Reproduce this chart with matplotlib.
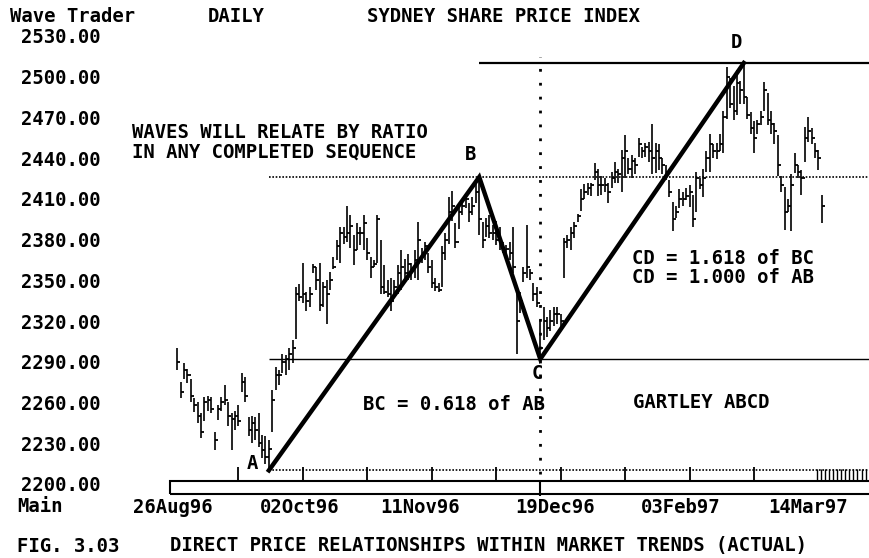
import matplotlib
matplotlib.use('Agg')
import matplotlib.pyplot as plt
from matplotlib.patches import Rectangle
from matplotlib.transforms import blended_transform_factory
import numpy as np

# daily HLC bars, Sydney share price index
high = [
    2300, 2275, 2289, 2285, 2277, 2263, 2260, 2252, 2264, 2265,
    2264, 2238, 2258, 2264, 2273, 2260, 2252, 2254, 2258, 2282,
    2279, 2249, 2250, 2249, 2252, 2236, 2235, 2232, 2269, 2286,
    2284, 2296, 2295, 2300, 2306, 2345, 2347, 2363, 2341, 2345,
    2362, 2360, 2363, 2349, 2350, 2356, 2367, 2380, 2389, 2389,
    2405, 2398, 2383, 2392, 2389, 2398, 2381, 2367, 2365, 2398,
    2380, 2361, 2350, 2352, 2350, 2361, 2372, 2366, 2369, 2363,
    2372, 2393, 2374, 2378, 2370, 2365, 2352, 2348, 2375, 2385,
    2411, 2416, 2392, 2404, 2410, 2413, 2407, 2411, 2421, 2426,
    2393, 2396, 2398, 2391, 2394, 2389, 2378, 2376, 2378, 2389,
    2343, 2341, 2360, 2391, 2358, 2348, 2345, 2321, 2330, 2323,
    2328, 2330, 2330, 2325, 2381, 2383, 2389, 2393, 2399, 2417,
    2421, 2422, 2422, 2436, 2432, 2427, 2425, 2422, 2430, 2437,
    2432, 2446, 2457, 2440, 2442, 2440, 2455, 2448, 2451, 2452,
    2465, 2451, 2450, 2440, 2435, 2424, 2408, 2405, 2417, 2415,
    2418, 2420, 2413, 2430, 2425, 2432, 2445, 2458, 2450, 2451,
    2458, 2475, 2507, 2499, 2493, 2505, 2497, 2510, 2485, 2474,
    2467, 2468, 2475, 2496, 2488, 2475, 2466, 2457, 2427, 2419,
    2410, 2428, 2444, 2435, 2431, 2463, 2470, 2462, 2451, 2446,
    2413]
low = [
    2284, 2263, 2277, 2274, 2260, 2253, 2245, 2234, 2246, 2254,
    2252, 2225, 2247, 2254, 2258, 2243, 2225, 2240, 2243, 2268,
    2260, 2235, 2230, 2232, 2227, 2219, 2215, 2210, 2238, 2269,
    2273, 2282, 2280, 2284, 2289, 2307, 2335, 2333, 2327, 2330,
    2355, 2343, 2327, 2330, 2318, 2343, 2358, 2365, 2363, 2377,
    2378, 2374, 2361, 2372, 2376, 2372, 2365, 2352, 2360, 2363,
    2340, 2340, 2338, 2327, 2339, 2340, 2343, 2348, 2350, 2350,
    2352, 2350, 2363, 2365, 2355, 2344, 2342, 2341, 2345, 2365,
    2377, 2394, 2374, 2388, 2398, 2403, 2393, 2398, 2407, 2383,
    2374, 2382, 2381, 2380, 2376, 2372, 2370, 2368, 2365, 2355,
    2296, 2326, 2349, 2352, 2350, 2335, 2330, 2292, 2306, 2308,
    2313, 2316, 2318, 2315, 2352, 2374, 2372, 2381, 2393, 2401,
    2410, 2413, 2412, 2424, 2412, 2413, 2415, 2407, 2418, 2422,
    2422, 2415, 2425, 2428, 2425, 2428, 2441, 2440, 2441, 2437,
    2428, 2429, 2431, 2428, 2424, 2411, 2386, 2396, 2403, 2405,
    2409, 2404, 2389, 2400, 2417, 2411, 2430, 2430, 2440, 2439,
    2445, 2444, 2469, 2477, 2468, 2472, 2480, 2480, 2469, 2458,
    2444, 2458, 2464, 2475, 2464, 2458, 2450, 2427, 2415, 2387,
    2400, 2386, 2429, 2425, 2413, 2437, 2452, 2450, 2440, 2431,
    2392]
close = [
    2290, 2268, 2284, 2280, 2265, 2258, 2250, 2238, 2260, 2262,
    2255, 2232, 2255, 2260, 2262, 2250, 2248, 2250, 2246, 2275,
    2265, 2240, 2245, 2240, 2230, 2225, 2220, 2226, 2262, 2280,
    2280, 2290, 2292, 2296, 2300, 2340, 2338, 2340, 2335, 2340,
    2360, 2350, 2332, 2345, 2340, 2350, 2360, 2375, 2385, 2382,
    2385, 2390, 2372, 2385, 2385, 2392, 2370, 2360, 2362, 2395,
    2345, 2341, 2340, 2335, 2345, 2355, 2360, 2355, 2362, 2358,
    2365, 2380, 2370, 2375, 2360, 2348, 2345, 2343, 2370, 2380,
    2400, 2405, 2378, 2400, 2405, 2410, 2400, 2405, 2415, 2395,
    2380, 2390, 2385, 2385, 2380, 2378, 2372, 2373, 2370, 2360,
    2320, 2335, 2355, 2360, 2355, 2340, 2333, 2300, 2320, 2315,
    2320, 2325, 2325, 2320, 2378, 2380, 2385, 2390, 2397, 2410,
    2415, 2418, 2420, 2430, 2420, 2420, 2420, 2415, 2425, 2430,
    2428, 2440, 2445, 2432, 2438, 2435, 2450, 2445, 2448, 2445,
    2440, 2445, 2440, 2435, 2430, 2415, 2395, 2400, 2410, 2410,
    2412, 2415, 2395, 2425, 2420, 2425, 2440, 2450, 2445, 2445,
    2450, 2470, 2500, 2480, 2475, 2495, 2490, 2485, 2472, 2462,
    2455, 2465, 2470, 2490, 2468, 2465, 2460, 2435, 2420, 2400,
    2405, 2420, 2435, 2430, 2425, 2455, 2460, 2455, 2445, 2440,
    2405]

# Gartley ABCD pivots (bar index, price)
pivot_names = ['A', 'B', 'C', 'D']
pivot_idx = [27, 89, 107, 167]
pivot_price = [2210, 2426, 2292, 2510]

date_labels = ['26Aug96', '02Oct96', '11Nov96', '19Dec96', '03Feb97', '14Mar97']
date_pos = [-1.3, 36.1, 71.5, 111.3, 148.5, 186]
price_ticks = list(range(2200, 2531, 30))
time_ticks = [18, 37, 56, 75, 94, 113, 132, 151, 170]

plt.rcParams['font.family'] = 'DejaVu Sans Mono'
plt.rcParams['font.weight'] = 'bold'
plt.rcParams['font.size'] = 13.6

W, H = 870, 558
fig = plt.figure(figsize=(W / 100, H / 100), dpi=100)
ax = fig.add_axes([170 / W, (H - 494) / H, 700 / W, 494 / H])
x_right = 204.2
ax.set_xlim(-2.15, x_right)
ax.set_ylim(2192.6, 2556.4)
for s in ax.spines.values():
    s.set_visible(False)

idx = np.arange(len(high))
ax.vlines(idx, low, high, color='black', lw=1.2)
ax.hlines(close, idx, idx + 0.9, color='black', lw=1.3)

# pattern lines
ax.plot(pivot_idx, pivot_price, color='black', lw=3.2, solid_joinstyle='miter')
ax.hlines(pivot_price[1], pivot_idx[0], x_right, color='black', lw=1.2, linestyles=(0, (1, 1)))
ax.hlines(pivot_price[2], pivot_idx[0], x_right, color='black', lw=1.0)
ax.hlines(pivot_price[3], pivot_idx[1], x_right, color='black', lw=1.6, clip_on=False)
ax.hlines(pivot_price[0], pivot_idx[0], x_right, color='black', lw=1.2, linestyles=(0, (1, 1)))
offsets = [(-17, 7), (-9, 23), (-3, -14), (-7, 21)]
for name, xi, yp, off in zip(pivot_names, pivot_idx, pivot_price, offsets):
    ax.annotate(name, (xi, yp), xytext=off, textcoords='offset pixels',
                ha='center', va='center')

trans = blended_transform_factory(ax.transData, ax.transAxes)
ax.vlines(pivot_idx[2], 0.04, 0.885, transform=trans, color='black', lw=2,
          linestyles=(0, (1, 4)))
ax.vlines(pivot_idx[2], -0.004, 0.026, transform=trans, color='black', lw=1.5, clip_on=False)
ax.vlines(time_ticks, 0.026, 0.054, transform=trans, color='black', lw=1.3)
ax.vlines(np.arange(188.5, 204, 1.2), 0.026, 0.05, transform=trans, color='black', lw=1.0)
ax.add_patch(Rectangle((0, 0), 1.02, 0.0263, transform=ax.transAxes, fill=False,
                       lw=1.5, edgecolor='black', clip_on=False))

ax.set_yticks(price_ticks, [f'{p:.2f}' for p in price_ticks])
ax.set_xticks(date_pos, date_labels)
ax.tick_params(axis='y', length=0, pad=50)
ax.tick_params(axis='x', length=0, pad=3)


def ftext(x, y, s, **kw):
    fig.text(x / W, 1 - y / H, s, va='center', ha='left', **kw)


ftext(10, 17, 'Wave Trader')
ftext(208, 17, 'DAILY')
ftext(367, 17, 'SYDNEY SHARE PRICE INDEX')
ftext(132, 133, 'WAVES WILL RELATE BY RATIO')
ftext(132, 152, 'IN ANY COMPLETED SEQUENCE')
ftext(632, 259, 'CD = 1.618 of BC')
ftext(632, 278, 'CD = 1.000 of AB')
ftext(363, 405, 'BC = 0.618 of AB')
ftext(633, 403, 'GARTLEY ABCD')
ftext(17, 506, 'Main')
ftext(17, 546, 'FIG. 3.03')
ftext(170, 546, 'DIRECT PRICE RELATIONSHIPS WITHIN MARKET TRENDS (ACTUAL)')

fig.savefig('out.png', dpi=100)
